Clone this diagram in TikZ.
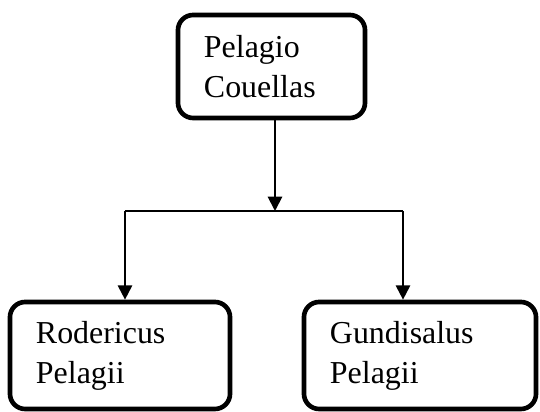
\documentclass[tikz,border=0pt]{standalone}
\usepackage{fontspec}
\setmainfont{Liberation Serif}
\usetikzlibrary{arrows.meta}
\tikzset{
  tree arrow/.style={-{Triangle[length=0.36cm,width=0.36cm]},draw=black,line width=1.4pt},
  tree line/.style={draw=black,line width=1.1pt},
  person node/.style={rounded corners=0.38cm,draw=black,fill=white,
    line width=3.3pt,inner xsep=0.65cm,inner ysep=0pt,align=left,
    font=\fontsize{22.7}{28.4}\selectfont}
}
\begin{document}
\begin{tikzpicture}[x=0.025cm,y=0.025cm]
    \useasboundingbox (0,0) rectangle (540,412);
    \node[person node,text width=3.375cm,minimum height=2.575cm]
      (pelagio) at (271.5,345.5) {Pelagio\\Couellas};
    \node[person node,text width=4.2cm,minimum height=2.675cm]
      (rodericus) at (120,56.5) {Rodericus\\Pelagii};
    \node[person node,text width=4.5cm,minimum height=2.675cm]
      (gundisalus) at (420,56.5) {Gundisalus\\Pelagii};
    \coordinate (split) at (275,201);
    \coordinate (lbranch) at (125,201);
    \coordinate (rbranch) at (403,201);
    \draw[tree arrow] (pelagio.south -| split) -- (split);
    \draw[tree line] (lbranch) -- (rbranch);
    \draw[tree arrow] (lbranch) -- (lbranch |- rodericus.north);
    \draw[tree arrow] (rbranch) -- (rbranch |- gundisalus.north);
  \end{tikzpicture}
\end{document}
